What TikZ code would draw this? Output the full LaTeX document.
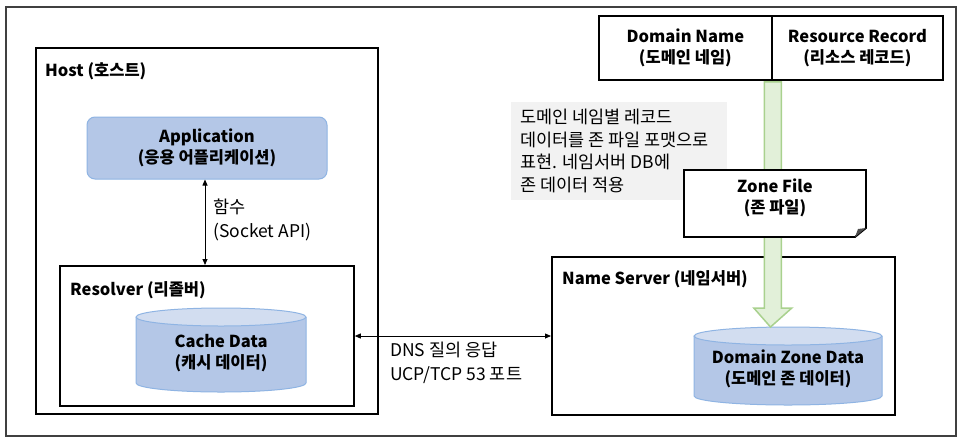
\documentclass[tikz,border=0pt]{standalone}
\usepackage{fontspec}
\setmainfont{Noto Sans CJK KR}
\usetikzlibrary{arrows.meta,calc}
\definecolor{bluefill}{HTML}{B4C7E7}
\definecolor{bluetop}{HTML}{D2DDF0}
\definecolor{blueline}{HTML}{8FB4E3}
\definecolor{greenfill}{HTML}{E2F0D9}
\definecolor{greenline}{HTML}{A9D18E}
\definecolor{notefill}{HTML}{F2F2F2}
\definecolor{framecol}{HTML}{404040}
\tikzset{
  box/.style={draw=black,line width=1.8pt,anchor=north west,inner sep=0pt,fill=white},
  lbl/.style={anchor=west,inner sep=0pt,font=\fontsize{16.5}{21}\selectfont\bfseries},
  ctext/.style={align=center,inner sep=0pt,font=\fontsize{16.5}{21.5}\selectfont\bfseries},
  plain/.style={align=left,inner sep=0pt,font=\fontsize{17.5}{23.5}\selectfont},
  conn/.style={line width=0.8pt,{Triangle[length=6pt,width=5pt]}-{Triangle[length=6pt,width=5pt]}},
}
\begin{document}
\begin{tikzpicture}[x=1pt,y=-1pt]
\useasboundingbox (0,0) rectangle (968,445);
% outer frame
\draw[framecol,line width=1.5pt] (6,7) rectangle (956,436);
% Host
\node[box,minimum width=342pt,minimum height=366pt] (host) at (35,47) {};
\node[lbl] (hostl) at (45,71) {Host (호스트)};
% Application
\node[draw=blueline,fill=bluefill,line width=1pt,rounded corners=8pt,minimum width=240pt,minimum height=62pt,ctext] (app) at (207,148) {Application\\(응용 어플리케이션)};
% Resolver
\node[box,minimum width=294pt,minimum height=140pt] (res) at (59,265) {};
\node[lbl] (resl) at (70,290) {Resolver (리졸버)};
% Cache cylinder
\fill[bluefill] (136,317) -- (136,383) arc[start angle=180,end angle=0,x radius=85,y radius=9] -- (306,317) -- cycle;
\draw[blueline,line width=1pt] (136,317) -- (136,383) arc[start angle=180,end angle=0,x radius=85,y radius=9] -- (306,317);
\draw[blueline,fill=bluetop,line width=1pt] (221,317) ellipse[x radius=85,y radius=9];
\node[ctext] (cache) at (221,353) {Cache Data\\(캐시 데이터)};
% function arrow
\coordinate (fx) at (205,0);
\draw[conn] (app.south -| fx) -- (res.north -| fx);
\node[plain,anchor=west] (fn) at (213,220) {함수\\(Socket API)};
% Name server
\node[box,minimum width=343pt,minimum height=158pt] (ns) at (551,256) {};
\node[lbl] (nsl) at (562,279) {Name Server (네임서버)};
% DNS arrow
\coordinate (dy) at (0,336);
\draw[conn] (res.east |- dy) -- (ns.west |- dy);
\node[plain,anchor=west] (dns) at (390,363) {DNS 질의 응답\\UCP/TCP 53 포트};
% note
\node[fill=notefill,anchor=north west,minimum width=216pt,minimum height=98pt,inner sep=0pt] (notebg) at (511,102) {};
\node[plain,anchor=west,font=\fontsize{17.5}{22.8}\selectfont] (note) at (520,151) {도메인 네임별 레코드\\데이터를 존 파일 포맷으로\\표현. 네임서버 DB에\\존 데이터 적용};
% Domain name / Resource record
\node[box,minimum width=173pt,minimum height=64pt,ctext] (dn) at (598,15) {};
\node[ctext] at (dn.center) {Domain Name\\(도메인 네임)};
\node[box,minimum width=171pt,minimum height=64pt] (rr) at (771,15) {};
\node[ctext] at (rr.center) {Resource Record\\(리소스 레코드)};
% Domain zone data cylinder
\fill[bluefill] (694,336) -- (694,396) arc[start angle=180,end angle=0,x radius=94,y radius=9] -- (882,336) -- cycle;
\draw[blueline,line width=1pt] (694,336) -- (694,396) arc[start angle=180,end angle=0,x radius=94,y radius=9] -- (882,336);
\draw[blueline,fill=bluetop,line width=1pt] (788,336) ellipse[x radius=94,y radius=9];
\node[ctext] (dzd) at (788,369) {Domain Zone Data\\(도메인 존 데이터)};
\coordinate (tip) at (770.5,327);
% green arrow
\coordinate (top) at (dn.south east);
\draw[greenline,fill=greenfill,line width=1.5pt,line join=miter]
  ($(top)+(-8.5,1)$) -- ($(top)+(8.5,1)$) -- ($(top |- 0,308)+(8.5,0)$) -- ($(top |- 0,308)+(19,0)$) -- (tip)
  -- ($(top |- 0,308)+(-19,0)$) -- ($(top |- 0,308)+(-8.5,0)$) -- cycle;
% Zone file
\draw[black,line width=1.8pt,fill=white,line join=miter] (684,170) -- (866,170) -- (866,228) -- (855,237) -- (684,237) -- cycle;
\fill[black!70] (855,237) -- (858,229) -- (866,228) -- cycle;
\node[ctext] (zf) at (775,198) {Zone File\\(존 파일)};
\end{tikzpicture}
\end{document}
